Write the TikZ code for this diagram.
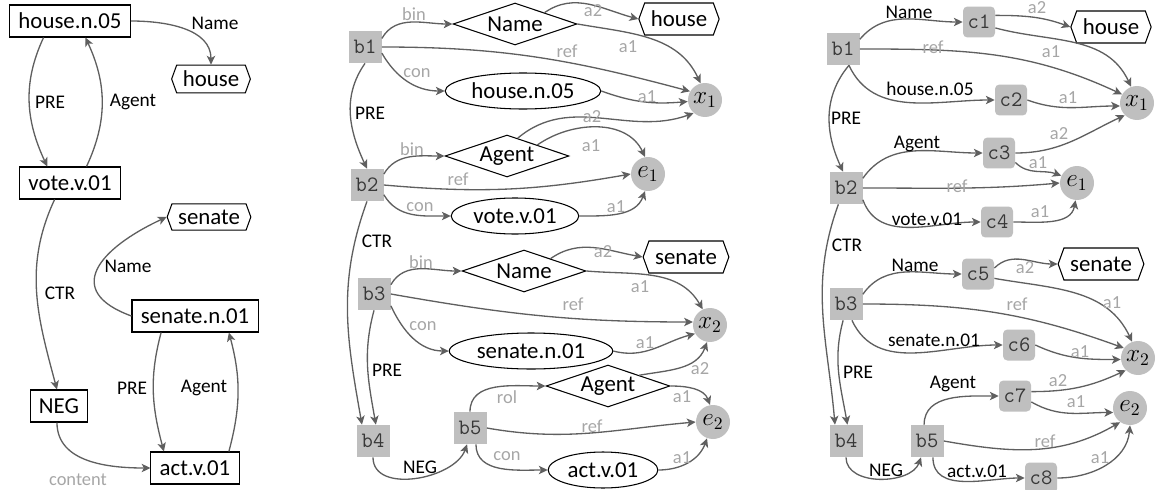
\documentclass[tikz,border=0pt]{standalone}
\usepackage{fontspec}
\setmainfont{Carlito}
\usetikzlibrary{arrows.meta,shapes.geometric,shapes.symbols}

\definecolor{edgec}{HTML}{5F5F5F}
\definecolor{boxc}{HTML}{BFBFBF}
\definecolor{labc}{HTML}{A6A6A6}
\definecolor{idc}{HTML}{383838}

\tikzset{
  arr/.style={draw=edgec, line width=0.75pt, -{Stealth[length=5pt,width=4.8pt,inset=1.3pt]}},
  glab/.style={font=\fontsize{10.5}{12}\selectfont, text=labc, inner sep=0pt},
  blab/.style={font=\fontsize{11}{13}\selectfont, inner sep=0pt},
  sbox/.style={draw, line width=0.6pt, inner xsep=5pt, minimum height=0.64cm},
  cst/.style={signal, signal to=west and east, signal pointer angle=140, draw, line width=0.6pt, inner xsep=3.5pt, minimum height=0.64cm},
  rel/.style={diamond, aspect=3, draw, line width=0.6pt, minimum width=2.48cm, minimum height=0.84cm, inner sep=0pt},
  sense/.style={ellipse, draw, line width=0.6pt, inner xsep=2pt, inner ysep=1pt, minimum height=0.72cm},
  drs/.style={fill=boxc, text=idc, font=\fontsize{12.5}{14}\selectfont\ttfamily, minimum width=0.66cm, minimum height=0.64cm, inner sep=0pt},
  cond/.style={drs, rounded corners=2.5pt, minimum width=0.64cm, minimum height=0.62cm},
  dref/.style={circle, fill=boxc, font=\fontsize{14}{16}\selectfont, minimum size=0.68cm, inner sep=0pt}
}

\begin{document}
\begin{tikzpicture}[x=0.02cm, y=-0.02cm, font=\fontsize{13}{15}\selectfont]
\useasboundingbox (0,0) rectangle (1156,490);

% graph
\node[sbox] (hn) at (70,21) {house.n.05};
\node[cst, minimum height=0.52cm] (hs) at (211,79) {house};
\node[sbox] (vv) at (70,183) {vote.v.01};
\node[cst, minimum height=0.52cm] (se) at (209,217) {senate};
\node[sbox] (sn) at (195,316) {senate.n.01};
\node[sbox] (ng) at (59,406) {NEG};
\node[sbox] (av) at (195,468) {act.v.01};

\draw[arr] (hn.east) to[out=0,in=90] (hs.north) node[blab] at (215,23) {Name};
\draw[arr] (hn.212) to[out=245,in=115] (vv.144) node[blab] at (50,102) {PRE};
\draw[arr] (vv.45) to[out=65,in=295] (hn.313) node[blab] at (133,102) {Agent};
\draw[arr] (vv.227) to[out=245,in=105] (ng.97) node[blab] at (60,293) {CTR};
\draw[arr] (sn.west) to[out=160,in=205,looseness=1.8] (se.west) node[blab] at (128,266) {Name};
\draw[arr] (sn.206) to[out=255,in=105] (av.152) node[blab] at (132,388) {PRE};
\draw[arr] (av.26) to[out=75,in=285] (sn.334) node[blab] at (204,388) {Agent};
\draw[arr] (ng.263) to[out=270,in=180] (av.west) node[glab] at (78,480) {content};

% boxes with relations as diamonds
\node[drs] (mb1) at (365,47) {b1};
\node[rel] (mnm1) at (515,24) {Name};
\node[cst] (mhs) at (679,19) {house};
\node[sense] (mhn) at (523,91) {house.n.05};
\node[dref] (mx1) at (705,100) {$x_1$};
\node[rel] (mag1) at (507,156) {Agent};
\node[drs] (mb2) at (367,185) {b2};
\node[dref] (me1) at (648,174) {$e_1$};
\node[sense] (mvv) at (515,216) {vote.v.01};
\node[cst] (mse) at (686,257) {senate};
\node[rel] (mnm2) at (524,271) {Name};
\node[drs] (mb3) at (374,294) {b3};
\node[dref] (mx2) at (710,325) {$x_2$};
\node[sense] (msn) at (531,351) {senate.n.01};
\node[rel] (mag2) at (608,386) {Agent};
\node[dref] (me2) at (713,422) {$e_2$};
\node[drs] (mb4) at (373,441) {b4};
\node[drs] (mb5) at (470,428) {b5};
\node[sense] (mav) at (603,470) {act.v.01};

\draw[arr] (mb1.27) to[out=60,in=180] (mnm1.west) node[glab] at (414,14) {bin};
\draw[arr] (mnm1.21) to[out=35,in=165] (mhs.west) node[glab] at (593,11) {a2};
\draw[arr] (mnm1.east) to[out=-10,in=115] (mx1.105) node[glab] at (628,47) {a1};
\draw[arr] (mb1.east) to[out=0,in=165] (mx1.150) node[glab] at (567,51) {ref};
\draw[arr] (mb1.-20) to[out=-60,in=180] (mhn.west) node[glab] at (417,73) {con};
\draw[arr] (mhn.east) to[out=-20,in=185] (mx1.185) node[glab] at (647,97) {a1};
\draw[arr] (mb1.south) to[out=235,in=115] (mb2.north) node[blab] at (370,113) {PRE};
\draw[arr] (mag1.59) to[out=40,in=200] (mx1.229) node[glab] at (592,117) {a2};
\draw[arr] (mag1.20) to[out=35,in=115] (me1.100) node[glab] at (591,146) {a1};
\draw[arr] (mb2.33) to[out=60,in=180] (mag1.west) node[glab] at (412,149) {bin};
\draw[arr] (mb2.east) to[out=-5,in=190] (me1.west) node[glab] at (458,179) {ref};
\draw[arr] (mb2.-30) to[out=-60,in=180] (mvv.west) node[glab] at (420,207) {con};
\draw[arr] (mvv.east) to[out=0,in=250] (me1.260) node[glab] at (616,207) {a1};
\draw[arr] (mb2.south) to[out=250,in=100] (mb4.124) node[blab] at (377,241) {CTR};
\draw[arr] (mb3.south) to[out=255,in=100] (mb4.80) node[blab] at (387,370) {PRE};
\draw[arr] (mb3.29) to[out=60,in=180] (mnm2.west) node[glab] at (421,262) {bin};
\draw[arr] (mnm2.25) to[out=35,in=170] (mse.west) node[glab] at (603,252) {a2};
\draw[arr] (mnm2.east) to[out=-5,in=120] (mx2.115) node[glab] at (640,287) {a1};
\draw[arr] (mb3.east) to[out=-10,in=180] (mx2.170) node[glab] at (573,304) {ref};
\draw[arr] (mb3.-35) to[out=-65,in=180] (msn.west) node[glab] at (423,326) {con};
\draw[arr] (msn.east) to[out=-15,in=195] (mx2.210) node[glab] at (645,343) {a1};
\draw[arr] (mag2.19) to[out=10,in=250] (mx2.260) node[glab] at (700,369) {a2};
\draw[arr] (mag2.east) to[out=0,in=110] (me2.100) node[glab] at (682,397) {a1};
\draw[arr] (mb5.north) to[out=90,in=180] (mag2.west) node[glab] at (507,397) {rol};
\draw[arr] (mb5.east) to[out=-10,in=185] (me2.west) node[glab] at (592,426) {ref};
\draw[arr] (mb5.-70) to[out=270,in=180] (mav.west) node[glab] at (507,456) {con};
\draw[arr] (mav.east) to[out=0,in=250] (me2.250) node[glab] at (682,458) {a1};
\draw[arr] (mb4.south) to[out=270,in=250] (mb5.-100) node[blab] at (420,467) {NEG};

% boxes with conditions
\node[drs] (rb1) at (843,49) {b1};
\node[cond] (rc1) at (979,22) {c1};
\node[cst] (rhs) at (1111,27) {house};
\node[cond] (rc2) at (1011,100) {c2};
\node[dref] (rx1) at (1137,103) {$x_1$};
\node[cond] (rc3) at (999,153) {c3};
\node[drs] (rb2) at (846,188) {b2};
\node[dref] (re1) at (1077,183) {$e_1$};
\node[cond] (rc4) at (997,222) {c4};
\node[cond] (rc5) at (978,274) {c5};
\node[cst] (rse) at (1101,264) {senate};
\node[drs] (rb3) at (846,304) {b3};
\node[cond] (rc6) at (1019,345) {c6};
\node[dref] (rx2) at (1138,358) {$x_2$};
\node[cond] (rc7) at (1015,396) {c7};
\node[dref] (re2) at (1130,408) {$e_2$};
\node[drs] (rb4) at (846,441) {b4};
\node[drs] (rb5) at (927,441) {b5};
\node[cond] (rc8) at (1041,478) {c8};

\draw[arr] (rb1.30) to[out=50,in=180] (rc1.west) node[blab] at (909,12) {Name};
\draw[arr] (rc1.22) to[out=0,in=160] (rhs.west) node[glab] at (1037,8) {a2};
\draw[arr] (rc1.-20) to[out=-15,in=115] (rx1.110) node[glab] at (1051,52) {a1};
\draw[arr] (rb1.east) to[out=0,in=155] (rx1.150) node[glab] at (933,47) {ref};
\draw[arr] (rb1.-70) to[out=-65,in=180] (rc2.west) node[blab] at (930,89) {house.n.05};
\draw[arr] (rc2.east) to[out=-20,in=180] (rx1.190) node[glab] at (1068,98) {a1};
\draw[arr] (rb1.-70) to[out=230,in=115] (rb2.100) node[blab] at (846,118) {PRE};
\draw[arr] (rb2.30) to[out=55,in=180] (rc3.west) node[blab] at (917,144) {Agent};
\draw[arr] (rc3.east) to[out=0,in=205] (rx1.225) node[glab] at (1059,134) {a2};
\draw[arr] (rc3.-30) to[out=-45,in=160] (re1.155) node[glab] at (1038,163) {a1};
\draw[arr] (rb2.east) to[out=0,in=185] (re1.west) node[glab] at (957,186) {ref};
\draw[arr] (rb2.-35) to[out=-70,in=180] (rc4.west) node[blab] at (927,219) {vote.v.01};
\draw[arr] (rc4.east) to[out=0,in=260] (re1.265) node[glab] at (1040,212) {a1};
\draw[arr] (rb2.-115) to[out=250,in=95] (rb4.124) node[blab] at (847,245) {CTR};
\draw[arr] (rb3.-100) to[out=255,in=100] (rb4.85) node[blab] at (858,372) {PRE};
\draw[arr] (rb3.30) to[out=55,in=180] (rc5.west) node[blab] at (915,265) {Name};
\draw[arr] (rc5.20) to[out=45,in=180] (rse.west) node[glab] at (1025,268) {a2};
\draw[arr] (rc5.-15) to[out=-10,in=115] (rx2.110) node[glab] at (1112,303) {a1};
\draw[arr] (rb3.east) to[out=0,in=160] (rx2.145) node[glab] at (1017,304) {ref};
\draw[arr] (rb3.-70) to[out=-65,in=180] (rc6.west) node[blab] at (934,340) {senate.n.01};
\draw[arr] (rc6.east) to[out=-25,in=180] (rx2.185) node[glab] at (1080,352) {a1};
\draw[arr] (rc7.15) to[out=0,in=205] (rx2.225) node[glab] at (1058,381) {a2};
\draw[arr] (rc7.-20) to[out=-30,in=180] (re2.195) node[glab] at (1076,402) {a1};
\draw[arr] (rb5.100) to[out=90,in=180] (rc7.west) node[blab] at (953,384) {Agent};
\draw[arr] (rb5.east) to[out=-10,in=210] (re2.235) node[glab] at (1045,441) {ref};
\draw[arr] (rb5.-70) to[out=270,in=180] (rc8.west) node[blab] at (977,471) {act.v.01};
\draw[arr] (rc8.east) to[out=0,in=265] (re2.270) node[glab] at (1100,458) {a1};
\draw[arr] (rb4.south) to[out=270,in=250] (rb5.-110) node[blab] at (886,470) {NEG};
\end{tikzpicture}
\end{document}
